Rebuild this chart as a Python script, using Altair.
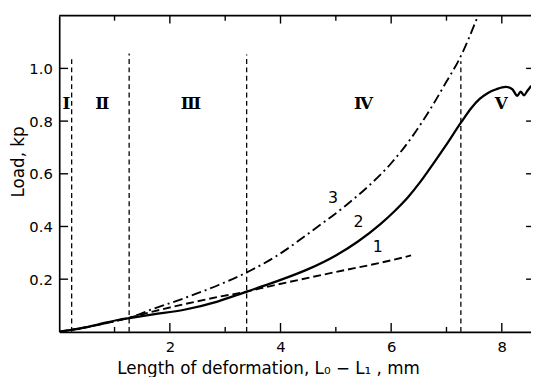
import altair as alt
import pandas as pd

# ---------------- data ----------------
# curve 2 (solid)
x2 = [0, 0.3, 0.7, 1.08, 1.27, 1.7, 2.26, 2.86, 3.39, 3.8, 4.1, 4.5, 5.0, 5.4, 5.8, 6.06,
      6.3, 6.53, 6.75, 6.98, 7.27, 7.45, 7.6, 7.75, 7.9, 8.07, 8.19, 8.28, 8.34, 8.40, 8.46, 8.53]
y2 = [0, 0.01, 0.028, 0.046, 0.052, 0.066, 0.084, 0.115, 0.153, 0.182, 0.205, 0.238, 0.29, 0.343,
      0.408, 0.458, 0.51, 0.57, 0.635, 0.705, 0.797, 0.85, 0.884, 0.907, 0.921, 0.93, 0.921,
      0.896, 0.912, 0.898, 0.914, 0.934]
# curve 1 (dashed)
x1 = [0, 0.5, 1.0, 1.27, 1.67, 2.26, 2.86, 3.39, 3.8, 4.5, 5.2, 5.8, 6.36]
y1 = [0, 0.018, 0.04, 0.054, 0.076, 0.105, 0.132, 0.153, 0.173, 0.205, 0.236, 0.262, 0.29]
# curve 3 (dash-dot)
x3 = [0, 0.5, 1.0, 1.27, 1.67, 2.26, 2.86, 3.45, 3.92, 4.58, 5.17, 5.6, 6.0, 6.36, 6.75, 7.0, 7.22, 7.57]
y3 = [0, 0.018, 0.04, 0.054, 0.085, 0.128, 0.176, 0.232, 0.287, 0.385, 0.478, 0.555, 0.64, 0.735,
      0.86, 0.95, 1.03, 1.2]

# region boundaries (dashed verticals)
bound_x = [0.225, 1.264, 3.388, 7.26]
bound_top = [1.035, 1.057, 1.053, 1.027]

# region labels
region_text = ["Ⅰ", "Ⅱ", "Ⅲ", "Ⅳ", "Ⅴ"]
region_x = [0.13, 0.78, 2.38, 5.5, 7.99]
region_y = [0.866, 0.866, 0.866, 0.866, 0.866]

# curve labels
curve_text = ["1", "2", "3"]
curve_lx = [5.76, 5.41, 4.95]
curve_ly = [0.321, 0.415, 0.509]

# ticks
x_major = [2, 4, 6, 8]
x_minor = [1, 3, 5, 7]
y_major = [0.2, 0.4, 0.6, 0.8, 1.0]

# ---------------- chart ----------------
W, H = 479, 321
XMAX = W / 56.17
FONT = "DejaVu Sans"

xs = alt.Scale(domain=[0, XMAX], nice=False, zero=False)
ys = alt.Scale(domain=[0, 1.2], nice=False, zero=False)

xaxis = alt.Axis(values=x_major, format="d", ticks=False, tickSize=0, grid=False,
                 domain=True, domainColor="black", domainWidth=1.7,
                 labelFont=FONT, labelFontSize=15, labelColor="black", labelPadding=8,
                 title="Length of deformation, L₀ − L₁ , mm", titleFont=FONT,
                 titleFontSize=17, titleFontWeight="normal", titleColor="black",
                 titleX=212, titleY=42, titleAlign="center", titleBaseline="alphabetic")
yaxis = alt.Axis(values=y_major, format=".1f", ticks=False, tickSize=0, grid=False,
                 domain=True, domainColor="black", domainWidth=1.7,
                 labelFont=FONT, labelFontSize=15, labelColor="black", labelPadding=7,
                 title="Load, kp", titleFont=FONT, titleFontSize=17,
                 titleFontWeight="normal", titleColor="black",
                 titleX=-41, titleY=148, titleAngle=270, titleAlign="center",
                 titleBaseline="middle")

X = lambda f: alt.X(f, scale=xs)
Y = lambda f: alt.Y(f, scale=ys)

d2 = pd.DataFrame({"x": x2, "y": y2})
d1 = pd.DataFrame({"x": x1, "y": y1})
d3 = pd.DataFrame({"x": x3, "y": y3})

solid = alt.Chart(d2).mark_line(color="black", strokeWidth=2.3, interpolate="monotone",
                                clip=True).encode(
    x=alt.X("x:Q", scale=xs, axis=xaxis),
    y=alt.Y("y:Q", scale=ys, axis=yaxis))
dashed = alt.Chart(d1).mark_line(color="black", strokeWidth=1.9, strokeDash=[8, 4],
                                 interpolate="monotone", clip=True).encode(
    x=X("x:Q"), y=Y("y:Q"))
dashdot = alt.Chart(d3).mark_line(color="black", strokeWidth=1.9, strokeDash=[10, 4, 2, 4],
                                  interpolate="monotone", clip=True).encode(
    x=X("x:Q"), y=Y("y:Q"))

db = pd.DataFrame({"x": bound_x, "top": bound_top, "zero": [0] * len(bound_x)})
bounds = alt.Chart(db).mark_rule(color="black", strokeWidth=1.3, strokeDash=[5, 3.5]).encode(
    x=X("x:Q"), y=Y("zero:Q"), y2="top:Q")

dr = pd.DataFrame({"t": region_text, "x": region_x, "y": region_y})
regions = alt.Chart(dr).mark_text(font="DejaVu Serif", fontSize=17, fontWeight="bold",
                                  color="black").encode(
    x=X("x:Q"), y=Y("y:Q"), text="t:N")

dc = pd.DataFrame({"t": curve_text, "x": curve_lx, "y": curve_ly})
clabels = alt.Chart(dc).mark_text(font=FONT, fontSize=16, color="black").encode(
    x=X("x:Q"), y=Y("y:Q"), text="t:N")

# frame top line
top_line = alt.Chart(pd.DataFrame({"a": [0]})).mark_rule(color="black", strokeWidth=1.7).encode(
    x=alt.value(0), x2=alt.value(W), y=alt.value(0))

# inward ticks
dxM = pd.DataFrame({"v": x_major})
dxm = pd.DataFrame({"v": x_minor})
dyM = pd.DataFrame({"v": y_major})
tk = dict(color="black", strokeWidth=1.4)
bt_major = alt.Chart(dxM).mark_rule(**tk).encode(
    x=X("v:Q"), y=alt.value(H), y2=alt.value(H - 9))
bt_minor = alt.Chart(dxm).mark_rule(**tk).encode(
    x=X("v:Q"), y=alt.value(H), y2=alt.value(H - 5))
tp_major = alt.Chart(dxM).mark_rule(**tk).encode(
    x=X("v:Q"), y=alt.value(0), y2=alt.value(8))
tp_minor = alt.Chart(dxm).mark_rule(**tk).encode(
    x=X("v:Q"), y=alt.value(0), y2=alt.value(5))
lt = alt.Chart(dyM).mark_rule(**tk).encode(
    y=Y("v:Q"), x=alt.value(0), x2=alt.value(9))
rt = alt.Chart(dyM).mark_rule(**tk).encode(
    y=Y("v:Q"), x=alt.value(W - 5), x2=alt.value(W))

chart = alt.layer(
    solid, dashed, dashdot, bounds, regions, clabels, top_line,
    bt_major, bt_minor, tp_major, tp_minor, lt, rt
).properties(
    width=W, height=H,
    padding={"left": 52, "top": 5, "right": 0, "bottom": 43},
    autosize=alt.AutoSizeParams(type="none"),
    background="white",
).configure_view(stroke=None)

chart.save("out.html", embed_options={"renderer": "svg", "actions": False})
